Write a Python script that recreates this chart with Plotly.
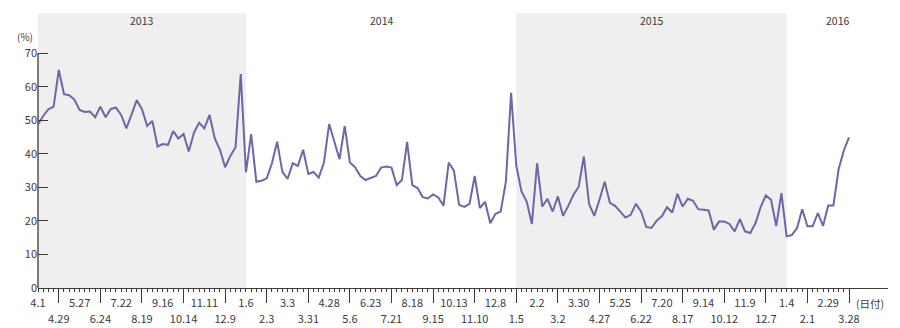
import pandas as pd
import plotly.graph_objects as go

# weekly values (%), starting 2013-04-01
rate_2013 = [48.8, 51.3, 53.3, 54.1, 65.0, 57.8, 57.5, 56.2, 53.1, 52.5,
             52.6, 50.9, 54.1, 50.9, 53.4, 53.8, 51.6, 47.6, 51.8, 56.0,
             53.3, 48.3, 49.8, 42.2, 42.9, 42.7, 46.8, 44.6, 45.9, 40.7,
             46.3, 49.3, 47.6, 51.6, 44.6, 41.2, 36.0, 39.4, 42.0, 63.8]
rate_2014 = [34.5, 45.9, 31.7, 32.0, 32.7, 37.2, 43.6, 34.7, 32.5, 37.2,
             36.4, 41.2, 34.0, 34.6, 32.9, 37.4, 48.9, 43.6, 38.4, 48.3,
             37.4, 36.0, 33.4, 32.2, 32.7, 33.4, 35.9, 36.2, 35.9, 30.7,
             32.2, 43.6, 30.7, 29.8, 27.1, 26.7, 27.9, 27.0, 24.5, 37.4,
             35.0, 24.8, 24.2, 25.1, 33.4, 23.8, 25.7, 19.3, 22.1, 22.8,
             31.7, 58.2]
rate_2015 = [36.4, 28.8, 25.8, 19.1, 37.2, 24.3, 26.6, 22.8, 27.3, 21.5,
             24.5, 27.8, 30.2, 39.2, 25.1, 21.5, 26.3, 31.7, 25.4, 24.5,
             22.8, 21.0, 21.8, 25.1, 22.8, 18.2, 17.9, 20.1, 21.4, 24.1,
             22.5, 28.1, 24.3, 26.6, 26.0, 23.5, 23.3, 23.1, 17.4, 19.8,
             19.8, 19.1, 16.9, 20.5, 16.9, 16.4, 19.3, 24.1, 27.6, 26.3,
             18.5, 28.3]
rate_2016 = [15.4, 15.8, 17.9, 23.5, 18.4, 18.4, 22.3, 18.5, 24.6, 24.6,
             35.4, 41.0, 44.9]

top_labels = ["4.1", "5.27", "7.22", "9.16", "11.11", "1.6", "3.3", "4.28",
              "6.23", "8.18", "10.13", "12.8", "2.2", "3.30", "5.25", "7.20",
              "9.14", "11.9", "1.4", "2.29"]
bottom_labels = ["4.29", "6.24", "8.19", "10.14", "12.9", "2.3", "3.31", "5.6",
                 "7.21", "9.15", "11.10", "1.5", "3.2", "4.27", "6.22", "8.17",
                 "10.12", "12.7", "2.1", "3.28"]
years = ["2013", "2014", "2015", "2016"]
y_ticks = [0, 10, 20, 30, 40, 50, 60, 70]

values = rate_2013 + rate_2014 + rate_2015 + rate_2016
dates = pd.date_range("2013-04-01", periods=len(values), freq="7D")

x_start = dates[0]
x_end = dates[0] + pd.Timedelta(days=7 * 163.5)

top_vals = list(dates[0::8])
bottom_vals = list(dates[4::8])

# year boundaries: first week of each year
year_starts = [dates[0]] + [d for i, d in enumerate(dates) if i > 0 and d.year != dates[i - 1].year]
year_ends = year_starts[1:] + [x_end]

AXIS = "#3d3a38"
TXT = "#3a3a3a"
LINE = "#6b67a9"
SHADE = "#eeefee"
FONT = "Noto Sans CJK JP"

fig = go.Figure()
fig.add_trace(go.Scatter(x=dates, y=values, mode="lines",
                         line=dict(color=LINE, width=2), hoverinfo="skip",
                         showlegend=False))
fig.add_trace(go.Scatter(x=dates, y=values, mode="lines", xaxis="x2",
                         line=dict(color="rgba(0,0,0,0)", width=0),
                         hoverinfo="skip", showlegend=False))

shapes = []
for k, (s, e) in enumerate(zip(year_starts, year_ends)):
    if k % 2 == 0:
        shapes.append(dict(type="rect", xref="x", yref="paper", x0=s, x1=e,
                           y0=0, y1=1, fillcolor=SHADE, line=dict(width=0),
                           layer="below"))
shapes.append(dict(type="line", xref="paper", yref="y", x0=0, x1=0, y0=0, y1=70,
                   line=dict(color=AXIS, width=1.3)))

annotations = []
for yr, s, e in zip(years, year_starts, year_ends):
    mid = s + (e - s) / 2
    annotations.append(dict(x=mid, y=1, xref="x", yref="paper", text=yr,
                            showarrow=False, yanchor="top", yshift=2,
                            font=dict(size=10.5, color=TXT, family=FONT)))
annotations.append(dict(x=0, y=70, xref="paper", yref="y", text="(%)",
                        showarrow=False, xanchor="right", yanchor="middle",
                        xshift=-3, yshift=17,
                        font=dict(size=10, color=TXT, family=FONT)))
annotations.append(dict(x=1, y=0, xref="paper", yref="y", text="(日付)",
                        showarrow=False, xanchor="right", yanchor="middle",
                        xshift=-2, yshift=-15,
                        font=dict(size=10.5, color=TXT, family=FONT)))

fig.update_layout(
    width=900, height=328,
    margin=dict(l=38, r=12, t=13, b=40, autoexpand=False),
    paper_bgcolor="white", plot_bgcolor="white",
    font=dict(family=FONT, size=11, color=TXT),
    shapes=shapes, annotations=annotations,
    xaxis=dict(type="date", range=[x_start, x_end], showgrid=False,
               zeroline=False, showline=True, linecolor=AXIS, linewidth=1.3,
               automargin=False,
               tickmode="array", tickvals=top_vals, ticktext=top_labels,
               ticks="", ticklabelstandoff=5,
               tickfont=dict(size=11, color=TXT, family=FONT),
               minor=dict(tickmode="array", tickvals=list(dates),
                          ticks="outside", ticklen=3, tickwidth=1,
                          tickcolor=AXIS, showgrid=False)),
    xaxis2=dict(type="date", range=[x_start, x_end], overlaying="x",
                side="bottom", anchor="y", showgrid=False, zeroline=False,
                showline=False, automargin=False,
                tickmode="array", tickvals=bottom_vals,
                ticktext=bottom_labels, ticks="outside", ticklen=14,
                tickwidth=1.3, tickcolor=AXIS, ticklabelstandoff=7,
                tickfont=dict(size=11, color=TXT, family=FONT)),
    yaxis=dict(range=[0, 82], showgrid=False, zeroline=False, showline=False,
               automargin=False,
               tickmode="array", tickvals=y_ticks, ticks="inside", ticklen=10,
               tickwidth=1.3, tickcolor=AXIS,
               tickfont=dict(size=11, color=TXT, family=FONT)),
)

fig.write_html("out.html")
